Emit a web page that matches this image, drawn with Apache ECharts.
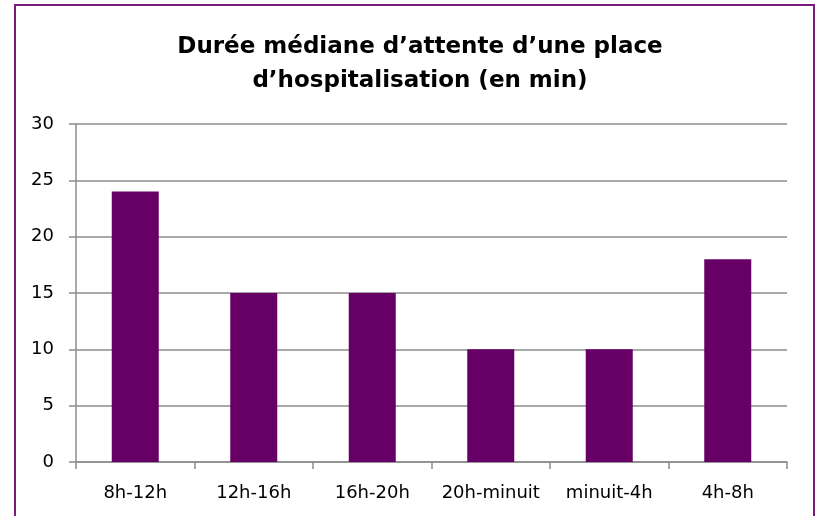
<!DOCTYPE html>
<html>
<head>
<meta charset="utf-8">
<script src="https://cdn.jsdelivr.net/npm/echarts@6/dist/echarts.min.js"></script>
<style>
  html, body { margin: 0; padding: 0; background: #fff; }
  #chart { width: 816px; height: 516px; }
</style>
</head>
<body>
<div id="chart"></div>
<script>
// plages horaires
const categories = ['8h-12h', '12h-16h', '16h-20h', '20h-minuit', 'minuit-4h', '4h-8h'];
// durée médiane (min)
const values = [24, 15, 15, 10, 10, 18];
const titleText = 'Durée médiane d\u2019attente d\u2019une place\nd\u2019hospitalisation (en min)';

const font = 'DejaVu Sans';
const gridColor = '#8c8c8c';

const chart = echarts.init(document.getElementById('chart'));
chart.setOption({
  backgroundColor: '#fff',
  animation: false,
  graphic: [{
    type: 'rect',
    shape: { x: 15, y: 5, width: 799, height: 530 },
    style: { fill: 'none', stroke: '#7a1a7a', lineWidth: 2 }
  }],
  title: {
    text: titleText,
    left: 415,
    top: 25,
    textAlign: 'center',
    textStyle: {
      fontFamily: font,
      fontWeight: 'bold',
      fontSize: 23,
      lineHeight: 34,
      color: '#000'
    }
  },
  grid: { left: 76, right: 29, top: 124, bottom: 54 },
  xAxis: {
    type: 'category',
    data: categories,
    axisLine: { lineStyle: { color: gridColor, width: 1.5 } },
    axisTick: { show: true, interval: 0, length: 7, lineStyle: { color: gridColor, width: 1.5 } },
    axisLabel: { interval: 0, margin: 22, fontFamily: font, fontSize: 18, color: '#000' }
  },
  yAxis: {
    type: 'value',
    min: 0,
    max: 30,
    interval: 5,
    axisLine: { show: true, lineStyle: { color: gridColor, width: 1.5 } },
    axisTick: { show: true, length: 7, lineStyle: { color: gridColor, width: 1.5 } },
    splitLine: { lineStyle: { color: gridColor, width: 1.5 } },
    axisLabel: { margin: 22, fontFamily: font, fontSize: 18, color: '#000' }
  },
  series: [{
    type: 'bar',
    data: values,
    barWidth: 47,
    itemStyle: { color: '#660066' }
  }]
});
</script>
</body>
</html>
